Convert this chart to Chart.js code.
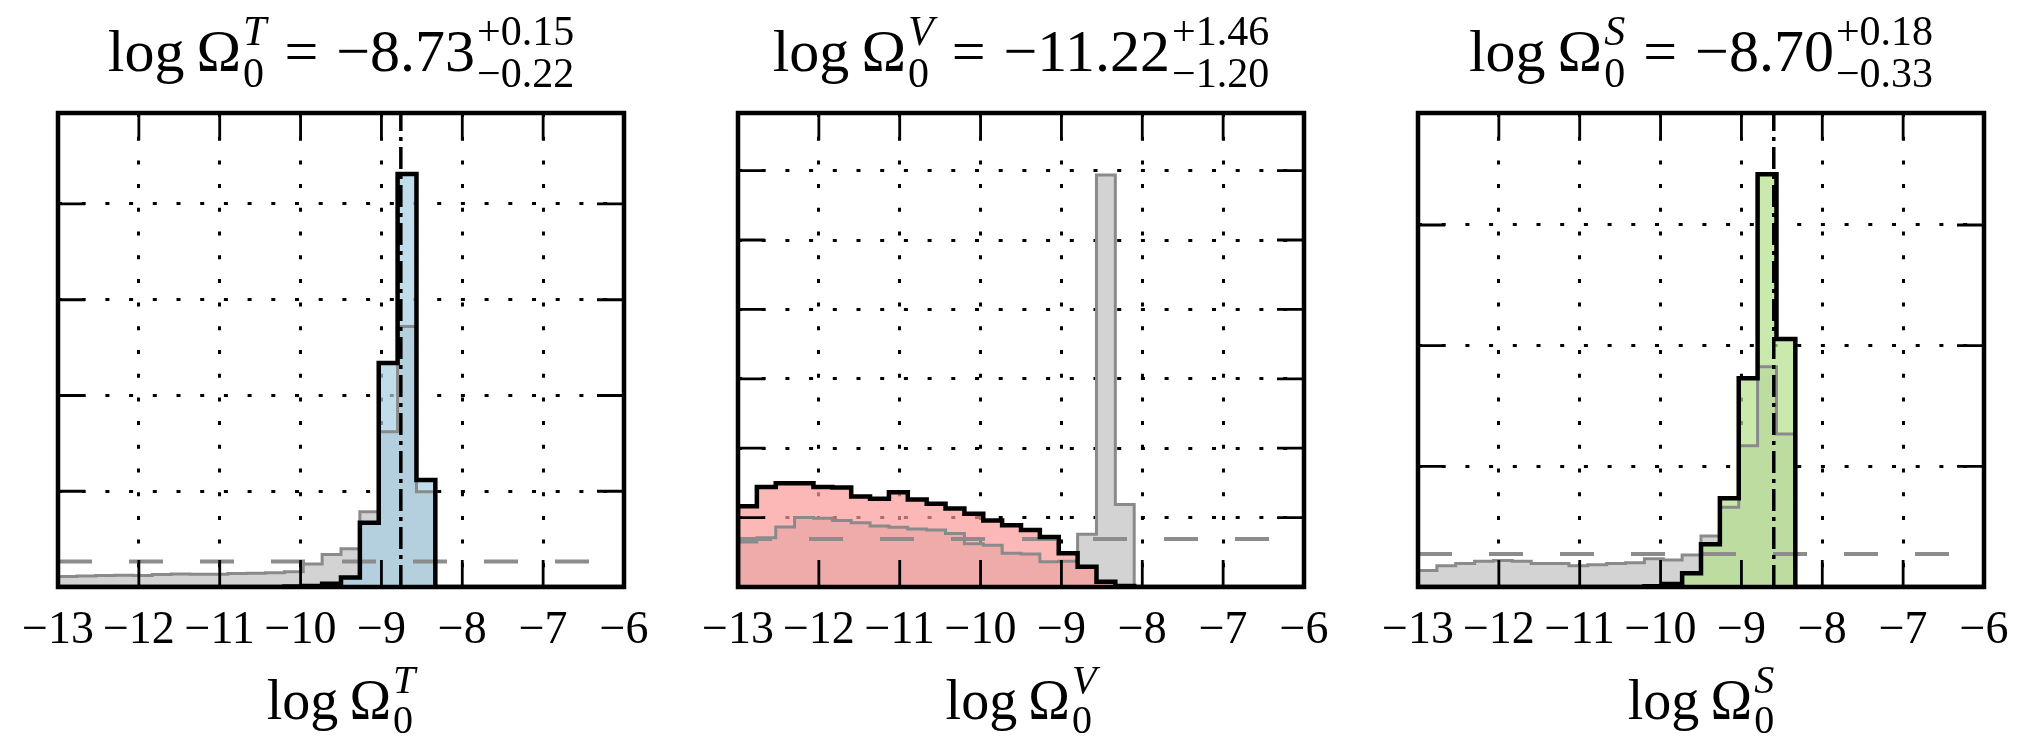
<!DOCTYPE html>
<html>
<head>
<meta charset="utf-8">
<script src="https://cdn.jsdelivr.net/npm/chart.js@4.4.1/dist/chart.umd.min.js"></script>
<style>
    html, body { margin: 0; padding: 0; background: #fff; }
    body { width: 2028px; height: 742px; position: relative; overflow: hidden; font-family: 'Liberation Serif', serif; color: #000; }
    .panel { position: absolute; top: 0; width: 680px; height: 742px; }
    .panel canvas { position: absolute; left: 0; top: 0; }
    /* math-like labels: main text + stacked super/subscripts */
    .ttl { position: absolute; display: flex; align-items: flex-start; white-space: nowrap; transform: translateX(-50%); }
    .ttl .m { font-size: 60px; line-height: 60px; margin-top: 10.5px; }
    .ttl .eq { margin-left: 0.3em; margin-right: 0.3em; }
    .ttl .st { display: flex; flex-direction: column; font-size: 42px; line-height: 42px; margin-left: 2px; }
    .xl .m { font-size: 56px; line-height: 56px; margin-top: 12px; }
    .xl .st { font-size: 40px; line-height: 40px; }
</style>
</head>
<body>

<div class="panel" style="left:0px"><canvas id="chartT" width="680" height="742"></canvas></div>
<div class="panel" style="left:680px"><canvas id="chartV" width="680" height="742"></canvas></div>
<div class="panel" style="left:1360px"><canvas id="chartS" width="680" height="742"></canvas></div>

<!-- titles -->
<div class="ttl" style="left:341px;top:10px">
    <span class="m">log&#8201;Ω</span><span class="st"><i>T</i><span>0</span></span>
    <span class="m eq">=</span><span class="m">−8.73</span><span class="st"><span>+0.15</span><span>−0.22</span></span>
</div>
<div class="ttl" style="left:1021px;top:10px">
    <span class="m">log&#8201;Ω</span><span class="st"><i>V</i><span>0</span></span>
    <span class="m eq">=</span><span class="m">−11.22</span><span class="st"><span>+1.46</span><span>−1.20</span></span>
</div>
<div class="ttl" style="left:1701px;top:10px">
    <span class="m">log&#8201;Ω</span><span class="st"><i>S</i><span>0</span></span>
    <span class="m eq">=</span><span class="m">−8.70</span><span class="st"><span>+0.18</span><span>−0.33</span></span>
</div>

<!-- x axis labels -->
<div class="ttl xl" style="left:341px;top:660px">
    <span class="m">log&#8201;Ω</span><span class="st"><i>T</i><span>0</span></span>
</div>
<div class="ttl xl" style="left:1021px;top:660px">
    <span class="m">log&#8201;Ω</span><span class="st"><i>V</i><span>0</span></span>
</div>
<div class="ttl xl" style="left:1701px;top:660px">
    <span class="m">log&#8201;Ω</span><span class="st"><i>S</i><span>0</span></span>
</div>

<script>
// Histogram binning: 30 bins between -13 and -6
const binMin = -13;
const binMax = -6;
const binCount = 30;

// x ticks (shared by the three panels)
const xTickValues = [-13, -12, -11, -10, -9, -8, -7, -6];
const xTickLabels = ['−13', '−12', '−11', '−10', '−9', '−8', '−7', '−6'];

// Panel T (tensor) - densities per bin
const grayT = [0.055, 0.058, 0.060, 0.062, 0.060, 0.065, 0.068, 0.066, 0.066, 0.070,
               0.072, 0.074, 0.080, 0.120, 0.170, 0.200, 0.393, 0.810, 1.360, 0.498,
               0, 0, 0, 0, 0, 0, 0, 0, 0, 0];
const blueT = [0, 0, 0, 0, 0, 0, 0, 0, 0, 0,
               0, 0, 0.002, 0.005, 0.017, 0.049, 0.335, 1.169, 2.156, 0.559,
               0, 0, 0, 0, 0, 0, 0, 0, 0, 0];
const yTicksT = [0.5, 1.0, 1.5, 2.0];

// Panel V (vector)
const grayV = [0.130, 0.142, 0.173, 0.200, 0.198, 0.192, 0.185, 0.176, 0.172, 0.167,
               0.164, 0.154, 0.125, 0.120, 0.097, 0.095, 0.073, 0.074, 0.152, 1.187,
               0.238, 0, 0, 0, 0, 0, 0, 0, 0, 0];
const redV = [0.233, 0.288, 0.299, 0.299, 0.288, 0.287, 0.261, 0.254, 0.273, 0.252,
              0.240, 0.226, 0.211, 0.192, 0.178, 0.164, 0.144, 0.097, 0.058, 0.015,
              0.003, 0, 0, 0, 0, 0, 0, 0, 0, 0];
const yTicksV = [0.2, 0.4, 0.6, 0.8, 1.0, 1.2];

// Panel S (scalar)
const grayS = [0.068, 0.088, 0.097, 0.107, 0.110, 0.107, 0.097, 0.097, 0.088, 0.092,
               0.097, 0.100, 0.117, 0.112, 0.133, 0.211, 0.330, 0.585, 0.913, 0.634,
               0, 0, 0, 0, 0, 0, 0, 0, 0, 0];
const greenS = [0, 0, 0, 0, 0, 0, 0, 0, 0, 0,
                0, 0, 0.003, 0.012, 0.057, 0.177, 0.368, 0.865, 1.710, 1.028,
                0, 0, 0, 0, 0, 0, 0, 0, 0, 0];
const yTicksS = [0.5, 1.0, 1.5];

// Axis tops, prior levels (dashed) and marked values (dash-dot)
const yMaxes = [2.475, 1.366, 1.964];
const priorLevels = [0.133, 0.138, 0.137];
const markerT = -8.76;
const markerS = -8.60;

// Bin edges
const binEdges = [];
for (let k = 0; k <= binCount; k++) binEdges.push(binMin + k * (binMax - binMin) / binCount);

// Turn per-bin values into a closed step outline (used with stepped: 'before',
// which in Chart.js draws the horizontal part first)
function histPoints(vals) {
    const pts = [{ x: binEdges[0], y: 0 }];
    vals.forEach((v, i) => pts.push({ x: binEdges[i], y: v }));
    pts.push({ x: binEdges[vals.length], y: vals[vals.length - 1] });
    pts.push({ x: binEdges[vals.length], y: 0 });
    return pts;
}

// Frame with inward tick marks on all four sides, drawn on top of everything
const frameTicksPlugin = {
    id: 'frameTicks',
    afterDraw(chart) {
        const { ctx, chartArea: a, scales: { x, y } } = chart;
        const len = 27;
        ctx.save();
        ctx.strokeStyle = '#000';
        ctx.lineWidth = 2.8;
        ctx.beginPath();
        x.ticks.forEach(t => {
            const px = x.getPixelForValue(t.value);
            ctx.moveTo(px, a.bottom); ctx.lineTo(px, a.bottom - len);
            ctx.moveTo(px, a.top); ctx.lineTo(px, a.top + len);
        });
        y.ticks.forEach(t => {
            const py = y.getPixelForValue(t.value);
            ctx.moveTo(a.left, py); ctx.lineTo(a.left + len, py);
            ctx.moveTo(a.right, py); ctx.lineTo(a.right - len, py);
        });
        ctx.stroke();
        ctx.lineWidth = 4.5;
        ctx.strokeRect(a.left, a.top, a.right - a.left, a.bottom - a.top);
        ctx.restore();
    }
};

function makePanel(canvasId, gray, post, fillColor, yTicks, yMax, prior, marker) {
    const stepLine = (vals, extra) => Object.assign({
        data: histPoints(vals),
        stepped: 'before',
        pointRadius: 0,
        fill: false,
        borderColor: 'transparent',
        borderWidth: 0
    }, extra);

    const datasets = [
        stepLine(gray, { fill: 'origin', backgroundColor: '#d3d3d3', order: 6 }),
        stepLine(post, { fill: 'origin', backgroundColor: fillColor, order: 5 }),
        stepLine(gray, { borderColor: '#8a8a8a', borderWidth: 3, order: 4 }),
        {
            data: [{ x: binMin, y: prior }, { x: binMax, y: prior }],
            borderColor: '#8c8c8c', borderWidth: 4, borderDash: [34, 37],
            pointRadius: 0, fill: false, order: 3
        },
        stepLine(post, { borderColor: '#000', borderWidth: 4.5, order: 2 })
    ];
    if (marker !== null) {
        datasets.push({
            data: [{ x: marker, y: 0 }, { x: marker, y: yMax }],
            borderColor: '#000', borderWidth: 3.5, borderDash: [22, 6, 4, 6],
            pointRadius: 0, fill: false, order: 1
        });
    }

    const gridStyle = { color: '#000', lineWidth: 3, drawTicks: false };
    const gridBorder = { display: false, dash: [4, 19.7] };

    return new Chart(document.getElementById(canvasId).getContext('2d'), {
        type: 'line',
        data: { datasets },
        plugins: [frameTicksPlugin],
        options: {
            responsive: false,
            animation: false,
            events: [],
            layout: { padding: { left: 58, right: 56, top: 113, bottom: 0 } },
            plugins: { legend: { display: false }, tooltip: { enabled: false } },
            scales: {
                x: {
                    type: 'linear',
                    min: binMin,
                    max: binMax,
                    z: 1,
                    afterBuildTicks: s => { s.ticks = xTickValues.map(v => ({ value: v })); },
                    afterFit: s => { s.height = 155; },
                    grid: gridStyle,
                    border: gridBorder,
                    ticks: {
                        autoSkip: false,
                        maxRotation: 0,
                        minRotation: 0,
                        padding: 16,
                        color: '#000',
                        font: { family: 'Liberation Serif', size: 46 },
                        callback: (v, i) => xTickLabels[i]
                    }
                },
                y: {
                    type: 'linear',
                    min: 0,
                    max: yMax,
                    z: 1,
                    afterBuildTicks: s => { s.ticks = yTicks.map(v => ({ value: v })); },
                    grid: gridStyle,
                    border: gridBorder,
                    ticks: { display: false }
                }
            }
        }
    });
}

const chartT = makePanel('chartT', grayT, blueT, 'rgba(166, 206, 227, 0.7)', yTicksT, yMaxes[0], priorLevels[0], markerT);
const chartV = makePanel('chartV', grayV, redV, 'rgba(251, 154, 153, 0.7)', yTicksV, yMaxes[1], priorLevels[1], null);
const chartS = makePanel('chartS', grayS, greenS, 'rgba(178, 223, 138, 0.7)', yTicksS, yMaxes[2], priorLevels[2], markerS);
</script>
</body>
</html>
